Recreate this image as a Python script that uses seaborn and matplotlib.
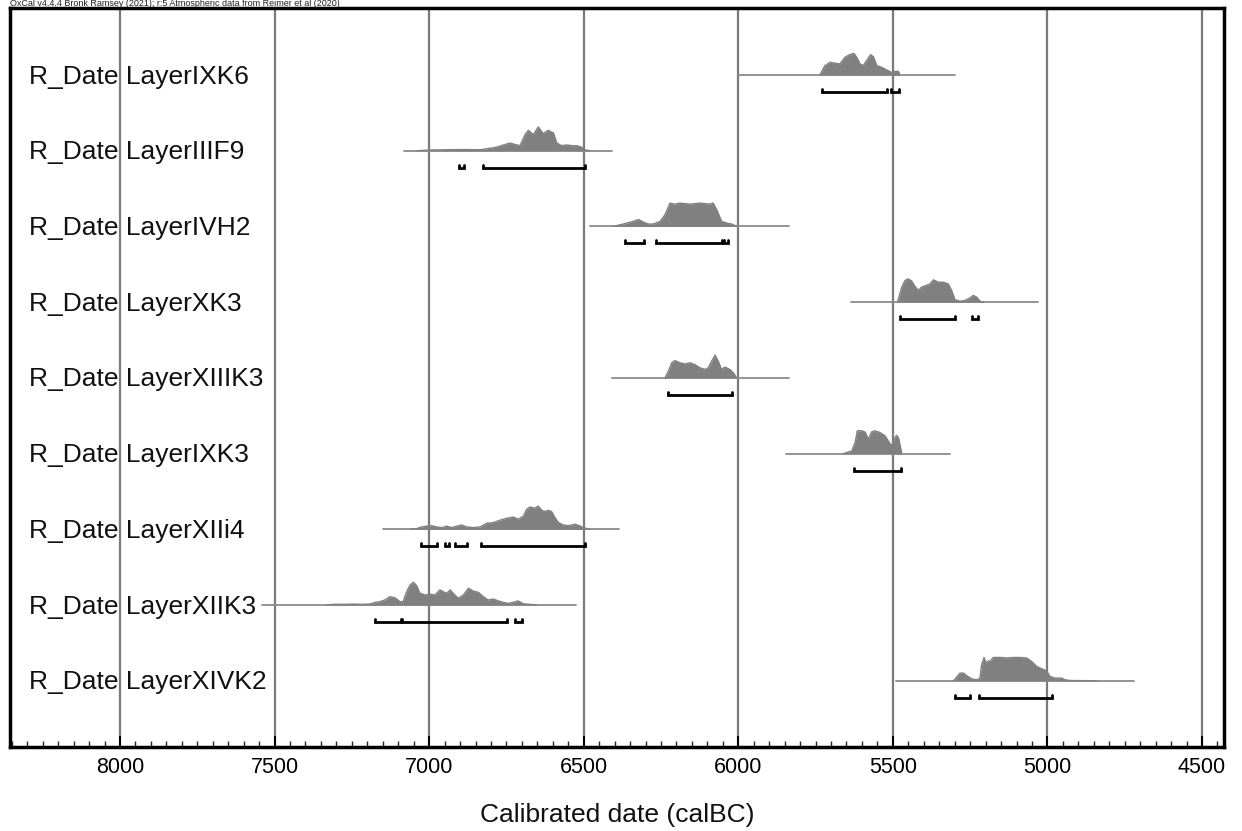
import numpy as np
import pandas as pd
import matplotlib
matplotlib.use("Agg")
import matplotlib.pyplot as plt
import matplotlib.transforms as mtransforms
from matplotlib.ticker import MultipleLocator
import seaborn as sns

# ---------------- data ----------------
labels = ["R_Date LayerIXK6", "R_Date LayerIIIF9", "R_Date LayerIVH2",
          "R_Date LayerXK3", "R_Date LayerXIIIK3", "R_Date LayerIXK3",
          "R_Date LayerXIIi4", "R_Date LayerXIIK3", "R_Date LayerXIVK2"]

# plotted calibration range of each likelihood (calBC)
ranges = [(6000, 5300), (7080, 6410), (6480, 5835), (5635, 5030), (6410, 5835),
          (5845, 5315), (7150, 6385), (7540, 6525), (5490, 4720)]

yrs_IXK6 = [5736, 5720, 5703, 5687, 5671, 5655, 5639, 5626, 5617, 5606, 5596,
            5585, 5572, 5563, 5552, 5536, 5520, 5504, 5493, 5482, 5477]
p_IXK6 = [0, .39, .53, .49, .46, .74, .85, .90, .74, .46, .39,
          .60, .85, .76, .39, .32, .21, .11, .15, .15, 0]

yrs_IIIF9 = [7040, 6997, 6943, 6889, 6835, 6814, 6781, 6760, 6738, 6722, 6706,
             6690, 6679, 6663, 6647, 6631, 6615, 6598, 6587, 6571, 6555, 6539,
             6523, 6507, 6496, 6480]
p_IIIF9 = [0, .03, .04, .05, .04, .08, .15, .24, .32, .26, .21,
           .67, .85, .67, .99, .71, .85, .74, .32, .21, .24, .21,
           .21, .15, .04, 0]

yrs_IVH2 = [6404, 6372, 6340, 6323, 6307, 6291, 6275, 6253, 6237, 6221, 6205,
            6189, 6156, 6124, 6092, 6081, 6070, 6054, 6037, 6021, 6005]
p_IVH2 = [0, .10, .21, .29, .18, .10, .10, .21, .49, .97, .93,
          .97, .93, .97, .93, .97, .70, .21, .14, .10, 0]

yrs_XK3 = [5485, 5471, 5461, 5450, 5439, 5428, 5418, 5407, 5391, 5380, 5369,
           5353, 5337, 5321, 5310, 5299, 5283, 5267, 5250, 5240, 5229, 5218, 5207]
p_XK3 = [0, .63, .90, .97, .88, .65, .49, .63, .70, .76, .93,
         .83, .83, .76, .49, .10, .04, .07, .18, .28, .21, .04, 0]

yrs_XIIIK3 = [6237, 6226, 6215, 6205, 6189, 6172, 6156, 6140, 6124, 6108, 6097,
              6086, 6075, 6065, 6054, 6043, 6027, 6016, 6005]
p_XIIIK3 = [0, .28, .63, .72, .63, .58, .63, .55, .42, .35, .42,
            .70, .95, .70, .35, .45, .35, .21, 0]

yrs_IXK3 = [5660, 5633, 5622, 5615, 5601, 5590, 5579, 5569, 5558, 5542, 5525,
            5515, 5504, 5493, 5488, 5482, 5471]
p_IXK3 = [0, .11, .46, .95, .95, .90, .60, .90, .95, .88, .74,
          .53, .32, .67, .76, .67, 0]

yrs_XIIi4 = [7060, 7040, 7024, 7008, 6992, 6976, 6959, 6943, 6927, 6911, 6895,
             6879, 6857, 6835, 6814, 6792, 6771, 6749, 6728, 6712, 6695, 6685,
             6674, 6658, 6647, 6636, 6625, 6615, 6604, 6593, 6582, 6566, 6550,
             6528, 6512, 6501, 6480]
p_XIIi4 = [0, .03, .10, .13, .15, .10, .07, .13, .07, .13, .18,
           .10, .07, .10, .25, .28, .38, .46, .51, .42, .55, .83,
           .93, .88, .97, .79, .74, .79, .74, .49, .28, .18, .15,
           .21, .14, .07, 0]

yrs_XIIK3 = [7331, 7310, 7267, 7245, 7224, 7191, 7175, 7159, 7143, 7127, 7110,
             7094, 7084, 7073, 7062, 7051, 7040, 7030, 7013, 6997, 6981, 6965,
             6954, 6943, 6932, 6922, 6906, 6889, 6873, 6857, 6841, 6825, 6809,
             6792, 6776, 6760, 6744, 6728, 6712, 6695, 6674, 6652]
p_XIIK3 = [0, .03, .03, .04, .03, .04, .11, .14, .21, .35, .30,
           .14, .14, .55, .83, .95, .80, .49, .42, .45, .42, .63,
           .55, .49, .63, .49, .28, .42, .70, .58, .53, .35, .21,
           .25, .17, .11, .07, .11, .17, .05, .03, 0]

yrs_XIVK2 = [5304, 5294, 5283, 5272, 5261, 5245, 5229, 5218, 5213, 5205, 5199,
             5191, 5186, 5175, 5153, 5132, 5110, 5089, 5067, 5051, 5035, 5019,
             5003, 4992, 4976, 4954, 4943, 4927, 4841]
p_XIVK2 = [0, .14, .32, .32, .21, .08, .04, .11, .67, .97, .74,
           .83, .80, .97, .97, .95, .97, .97, .95, .80, .60, .50,
           .42, .18, .11, .11, .04, .01, 0]

dist_years = [yrs_IXK6, yrs_IIIF9, yrs_IVH2, yrs_XK3, yrs_XIIIK3,
              yrs_IXK3, yrs_XIIi4, yrs_XIIK3, yrs_XIVK2]
dist_probs = [p_IXK6, p_IIIF9, p_IVH2, p_XK3, p_XIIIK3,
              p_IXK3, p_XIIi4, p_XIIK3, p_XIVK2]

# 95.4% highest posterior density ranges
hpd_ranges = [
    [(5730, 5520), (5505, 5480)],
    [(6905, 6888), (6825, 6496)],
    [(6366, 6305), (6266, 6054), (6046, 6032)],
    [(5477, 5299), (5245, 5224)],
    [(6226, 6021)],
    [(5626, 5475)],
    [(7027, 6976), (6949, 6935), (6916, 6879), (6833, 6496)],
    [(7175, 7092), (7088, 6749), (6722, 6701)],
    [(5299, 5250), (5221, 4986)],
]

x_ticks = [8000, 7500, 7000, 6500, 6000, 5500, 5000, 4500]
x_label = "Calibrated date (calBC)"
header = "OxCal v4.4.4 Bronk Ramsey (2021); r:5 Atmospheric data from Reimer et al (2020)"

# ---------------- drawing ----------------
sns.set_theme(style="white")
plt.rcParams['font.family'] = ['Liberation Sans', 'DejaVu Sans']

W, H = 1242, 831
fig = plt.figure(figsize=(W / 100, H / 100), dpi=100)
ax = fig.add_axes([10 / W, 1 - 747 / H, (1224 - 10) / W, (747 - 8) / H])

n = len(labels)
HSCALE = 0.317      # height of a distribution at relative probability 1
BR_OFF = 0.225      # bracket line offset below baseline
BR_HOOK = 0.04

for v in x_ticks:
    ax.axvline(v, color="#7a7a7a", lw=1.6, zorder=0)

label_tf = mtransforms.blended_transform_factory(ax.transAxes, ax.transData)
fill_col = "#808080"
for i in range(n):
    r0, r1 = ranges[i]
    ax.plot([r0, r1], [i, i], color="#8c8c8c", lw=1.3, zorder=2)
    df = pd.DataFrame({"year": dist_years[i],
                       "y": i - HSCALE * np.array(dist_probs[i])})
    ax.fill_between(df["year"], i, df["y"], color=fill_col, lw=0, zorder=3)
    sns.lineplot(data=df, x="year", y="y", ax=ax, color=fill_col, lw=1.0,
                 sort=False, estimator=None, zorder=3)
    yb = i + BR_OFF
    for a, b in hpd_ranges[i]:
        ax.plot([a, a, b, b], [yb - BR_HOOK, yb, yb, yb - BR_HOOK],
                color="black", lw=2.0, solid_joinstyle="miter", zorder=4)
    ax.text(19 / 1214, i + 0.02, labels[i], transform=label_tf,
            ha="left", va="center", fontsize=19, color="#111111", zorder=5)

x_left = 8000 + (120 - 10) * 3500 / 1082
x_right = 4500 - (1224 - 1202) * 3500 / 1082
ax.set_xlim(x_left, x_right)
ax.set_ylim(n - 1 + 0.875, -0.885)

ax.set_xticks(x_ticks)
ax.set_xticklabels([str(t) for t in x_ticks])
ax.xaxis.set_minor_locator(MultipleLocator(50))
ax.set_yticks([])
ax.tick_params(axis="x", which="major", direction="in", length=8, width=1.4,
               labelsize=15.5, pad=7, bottom=True, top=False, colors="black")
ax.tick_params(axis="x", which="minor", direction="in", length=4, width=1.0,
               bottom=True, top=False)
for s in ax.spines.values():
    s.set_visible(True)
    s.set_color("black")
    s.set_linewidth(2.5)
ax.set_xlabel(x_label, fontsize=19, color="#111111", labelpad=18)
ax.set_ylabel("")

fig.text(10 / W, 1 - 6.5 / H, header, ha="left", va="baseline", fontsize=6.5, color="#222222")

fig.savefig("out.png", dpi=100)
